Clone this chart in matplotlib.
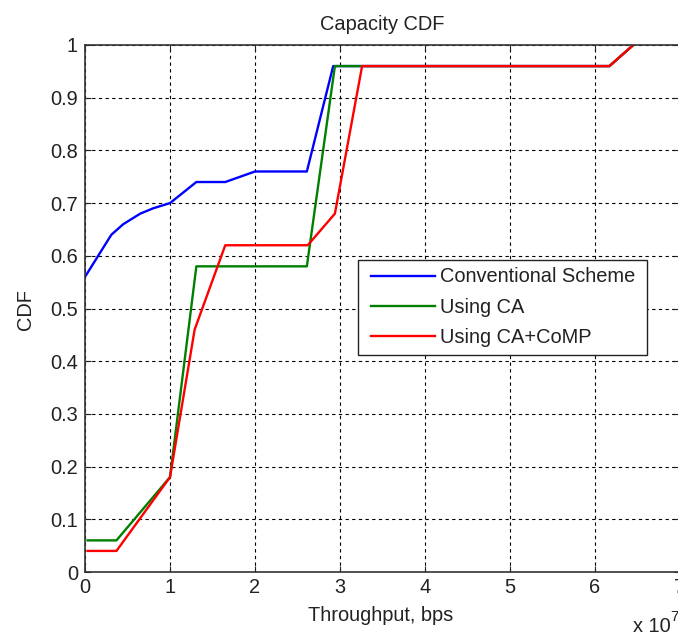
import numpy as np
import matplotlib
matplotlib.use("Agg")
import matplotlib.pyplot as plt
from matplotlib.patches import Rectangle

# Throughput in bps and the CDF value
conv_x = np.array([0.0, 0.31, 0.45, 0.65, 0.80, 1.0, 1.31, 1.65, 2.0, 2.61, 2.92, 6.17, 6.45]) * 1e7
conv_y = [0.56, 0.64, 0.66, 0.68, 0.69, 0.70, 0.74, 0.74, 0.76, 0.76, 0.96, 0.96, 1.0]

ca_x = np.array([0.03, 0.37, 1.0, 1.31, 2.61, 2.94, 6.17, 6.45]) * 1e7
ca_y = [0.06, 0.06, 0.18, 0.58, 0.58, 0.96, 0.96, 1.0]

comp_x = np.array([0.03, 0.37, 1.0, 1.29, 1.65, 2.62, 2.94, 3.26, 6.17, 6.45]) * 1e7
comp_y = [0.04, 0.04, 0.18, 0.46, 0.62, 0.62, 0.68, 0.96, 0.96, 1.0]

labels = ["Conventional Scheme", "Using CA", "Using CA+CoMP"]
colors = ["#0000ff", "#008000", "#ff0000"]

plt.rcParams['font.family'] = ['Liberation Sans', 'DejaVu Sans']
fs = 14.4
txt = "#222222"

W, H = 678, 637
fig = plt.figure(figsize=(W / 100, H / 100), dpi=100)
# axes box in pixels: x 85..680, y 45..572 (right edge cut by the image)
AX0, AX1, AY0, AY1 = 85, 680, 45, 572
ax = fig.add_axes([AX0 / W, 1 - AY1 / H, (AX1 - AX0) / W, (AY1 - AY0) / H])

def ax_frac(px, py):
    # pixel position in the image -> axes fraction
    return (px - AX0) / (AX1 - AX0), (AY1 - py) / (AY1 - AY0)

scale = 1e7
for xs, ys, lab, c in zip([conv_x, ca_x, comp_x], [conv_y, ca_y, comp_y], labels, colors):
    ax.plot(np.asarray(xs) / scale, ys, color=c, lw=1.7, label=lab)

ax.set_xlim(0, 7)
ax.set_ylim(0, 1)
ax.set_xticks(range(0, 8))
ax.set_yticks(np.arange(0, 1.01, 0.1))
ax.set_yticklabels(["0"] + ["%.1f" % v for v in np.arange(0.1, 0.95, 0.1)] + ["1"])
ax.grid(True, color="black", linestyle=(0, (3, 3)), linewidth=0.8)
ax.tick_params(direction="in", length=4, width=0.8, top=True, right=True,
               labelsize=fs, colors=txt)
ax.tick_params(axis="x", pad=4)
ax.tick_params(axis="y", pad=5)
for s in ax.spines.values():
    s.set_color("#333333")
    s.set_linewidth(1.2)

ax.text(0.5, 1 + 15 / 527, "Capacity CDF", transform=ax.transAxes,
        ha="center", va="baseline", fontsize=fs, color=txt)
fig.text(381 / W, 1 - 621 / H, "Throughput, bps", ha="center", va="baseline",
         fontsize=fs, color=txt)
fig.text(25 / W, 1 - 310 / H, "CDF", rotation=90, ha="center", va="center",
         fontsize=fs, color=txt)
fig.text(633 / W, 1 - 632 / H, "x 10", ha="left", va="baseline",
         fontsize=fs, color=txt)
fig.text(670 / W, 1 - 621 / H, "7", ha="left", va="baseline",
         fontsize=fs * 0.75, color=txt)

# legend box drawn separately (MATLAB pads more sideways than on top)
bx0, by0 = ax_frac(358, 355)
bx1, by1 = ax_frac(647, 260)
ax.add_patch(Rectangle((bx0, by0), bx1 - bx0, by1 - by0, transform=ax.transAxes,
                       facecolor="white", edgecolor=txt, linewidth=1.0, zorder=4))
lx, ly = ax_frac(370.5, 267.5)
leg = ax.legend(loc="upper left", bbox_to_anchor=(lx, ly), fontsize=fs,
                frameon=False, handlelength=3.2, handletextpad=0.3,
                borderpad=0, labelspacing=0.57, borderaxespad=0)
leg.set_zorder(5)
for t in leg.get_texts():
    t.set_color(txt)

fig.savefig("out.png", dpi=100)
